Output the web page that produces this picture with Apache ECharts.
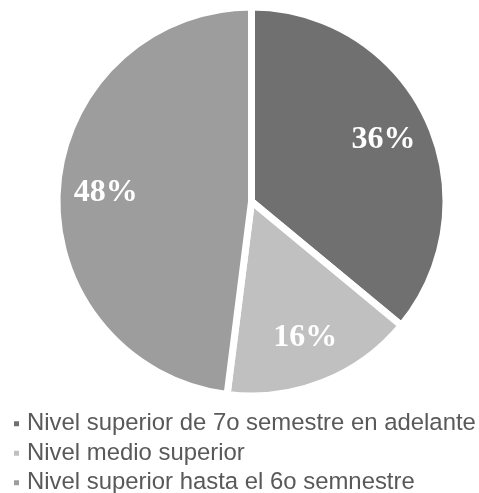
<!DOCTYPE html>
<html>
<head>
<meta charset="utf-8">
<script src="https://cdn.jsdelivr.net/npm/echarts@6/dist/echarts.min.js"></script>
<style>html,body{margin:0;padding:0;background:#fff}#c{width:479px;height:493px}</style>
</head>
<body>
<div id="c"></div>
<script>
var categories = ['Nivel superior de 7o semestre en adelante', 'Nivel medio superior', 'Nivel superior hasta el 6o semnestre'];
var values = [36, 16, 48];
var colors = ['#707070', '#c0c0c0', '#9d9d9d'];

var pieData = categories.map(function (n, i) {
  return { name: n, value: values[i], itemStyle: { color: colors[i] } };
});
var labelData = categories.map(function (n, i) {
  return { name: n, value: values[i] };
});

var chart = echarts.init(document.getElementById('c'), null, { renderer: 'canvas' });
chart.setOption({
  animation: false,
  legend: {
    data: categories,
    orient: 'vertical',
    left: 12,
    top: 409,
    height: 200,
    padding: 0,
    itemWidth: 7,
    itemHeight: 7,
    itemGap: 0,
    icon: 'rect',
    textStyle: { fontFamily: 'Liberation Sans', fontSize: 23.9, color: '#595959', lineHeight: 29.5, padding: [0, 0, 0, 2] }
  },
  series: [
    {
      type: 'pie',
      center: [251.5, 201.5],
      radius: [0, 194.5],
      startAngle: 90,
      clockwise: true,
      silent: true,
      label: { show: false },
      labelLine: { show: false },
      itemStyle: { borderColor: '#ffffff', borderWidth: 7 },
      data: pieData
    },
    {
      type: 'pie',
      center: [251.5, 201.5],
      radius: [0, 286],
      startAngle: 90,
      clockwise: true,
      silent: true,
      itemStyle: { color: 'rgba(0,0,0,0)' },
      label: {
        show: true,
        position: 'inside',
        formatter: '{c}%',
        color: '#ffffff',
        fontFamily: 'Liberation Serif',
        fontWeight: 'bold',
        fontSize: 32
      },
      labelLine: { show: false },
      data: labelData
    }
  ]
});
</script>
</body>
</html>
